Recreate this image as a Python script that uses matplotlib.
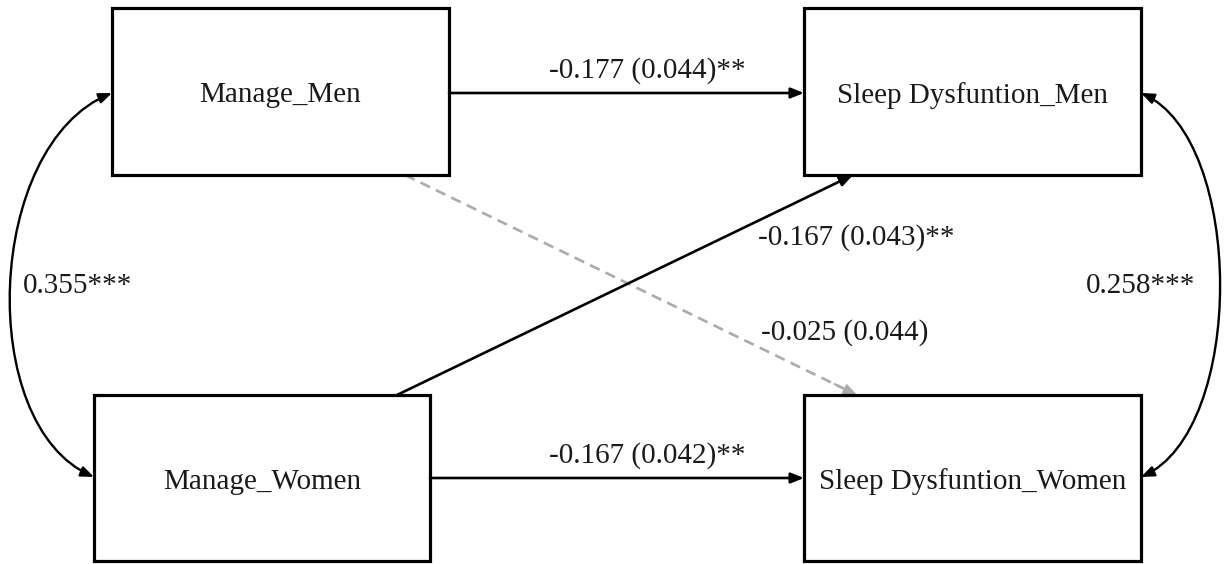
import matplotlib.pyplot as plt
from matplotlib.patches import Rectangle, FancyArrowPatch
from matplotlib.path import Path

plt.rcParams["font.family"] = ["Liberation Serif", "DejaVu Serif"]

# observed variables
nodes = ["Manage_Men", "Sleep Dysfuntion_Men", "Manage_Women", "Sleep Dysfuntion_Women"]

# regression paths: estimate (SE) with significance stars
path_src = ["Manage_Men", "Manage_Women", "Manage_Women", "Manage_Men"]
path_dst = ["Sleep Dysfuntion_Men", "Sleep Dysfuntion_Women",
            "Sleep Dysfuntion_Men", "Sleep Dysfuntion_Women"]
path_est = [-0.177, -0.167, -0.167, -0.025]
path_se = [0.044, 0.042, 0.043, 0.044]
path_sig = ["**", "**", "**", ""]

# covariances between partners
cov_a = ["Manage_Men", "Sleep Dysfuntion_Men"]
cov_b = ["Manage_Women", "Sleep Dysfuntion_Women"]
cov_est = [0.355, 0.258]
cov_sig = ["***", "***"]

# ---- layout (pixel space, y down) ----
boxes = {
    "Manage_Men": (112, 8, 449, 175),
    "Sleep Dysfuntion_Men": (804, 8, 1141, 175),
    "Manage_Women": (94, 395, 430, 561),
    "Sleep Dysfuntion_Women": (804, 395, 1141, 561),
}
path_ends = [((449, 93), (804, 93)),
             ((430, 478), (804, 478)),
             ((397, 395), (853, 175)),
             ((405, 175), (857, 395))]
path_lab = [(647, 71), (647, 456), (856, 238), (845, 333)]
cov_ctrl = [[(112, 93), (-15, 145), (-25, 425), (94, 477)],
            [(1141, 93), (1245, 140), (1246, 430), (1141, 477)]]
cov_lab = [(78, 286), (1141, 286)]
dy_box = 4

FS = 21
head = "-|>,head_length=0.55,head_width=0.22"

fig = plt.figure(figsize=(12.25, 5.64), dpi=100)
ax = fig.add_axes([0, 0, 1, 1])
ax.set_xlim(0, 1225)
ax.set_ylim(564, 0)
ax.axis("off")

for name in nodes:
    x0, y0, x1, y1 = boxes[name]
    ax.add_patch(Rectangle((x0, y0), x1 - x0, y1 - y0, fill=False,
                           ec="black", lw=2.3, zorder=3))
    ax.text((x0 + x1) / 2, (y0 + y1) / 2 + dy_box, name, ha="center", va="center",
            fontsize=FS, color="#1a1a1a")

# non-significant path drawn first, dashed grey
order = sorted(range(len(path_est)), key=lambda i: path_sig[i] != "")
for i in order:
    (xa, ya), (xb, yb) = path_ends[i]
    label = f"{path_est[i]:.3f} ({path_se[i]:.3f}){path_sig[i]}"
    if path_sig[i]:
        ax.add_patch(FancyArrowPatch((xa, ya), (xb, yb), arrowstyle=head,
                                     mutation_scale=14, lw=1.9, color="black",
                                     shrinkA=0, shrinkB=0, zorder=2))
    else:
        f = 0.97
        xm, ym = xa + (xb - xa) * f, ya + (yb - ya) * f
        ax.plot([xa, xm], [ya, ym], color="#ababab", lw=1.9,
                dashes=(4, 2.5), zorder=1)
        ax.add_patch(FancyArrowPatch((xm - (xb - xa) * 0.02, ym - (yb - ya) * 0.02),
                                     (xb, yb), arrowstyle=head, mutation_scale=14,
                                     lw=1.5, color="#ababab", shrinkA=0, shrinkB=0,
                                     zorder=1))
    ax.text(*path_lab[i], label, ha="center", va="center", fontsize=FS,
            color="#1a1a1a")

codes = [Path.MOVETO, Path.CURVE4, Path.CURVE4, Path.CURVE4]
for i in range(len(cov_est)):
    p = Path(cov_ctrl[i], codes)
    ax.add_patch(FancyArrowPatch(path=p, arrowstyle="<|-|>,head_length=0.55,head_width=0.22",
                                 mutation_scale=14, lw=1.7, color="black",
                                 shrinkA=0, shrinkB=0, zorder=2))
    ax.text(*cov_lab[i], f"{cov_est[i]:.3f}{cov_sig[i]}", ha="center", va="center",
            fontsize=FS, color="#1a1a1a")

fig.savefig("out.png", dpi=100)
